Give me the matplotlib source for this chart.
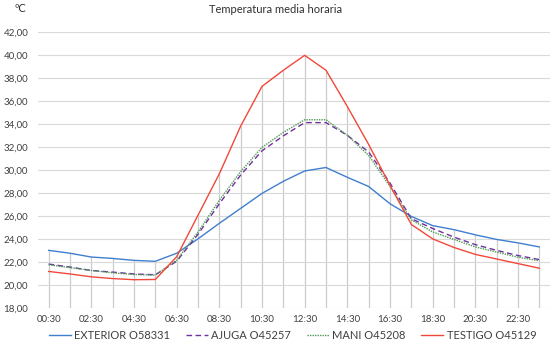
import numpy as np
import matplotlib.pyplot as plt

plt.rcParams["font.family"] = ["Lato", "DejaVu Sans"]

horas = [f"{h:02d}:30" for h in range(24)]

exterior = [23.05, 22.8, 22.47, 22.35, 22.18, 22.1, 22.8, 24.05, 25.4, 26.7, 28.0, 29.05,
            29.95, 30.25, 29.4, 28.6, 27.1, 26.0, 25.2, 24.85, 24.4, 24.0, 23.7, 23.35]
ajuga = [21.86, 21.6, 21.3, 21.16, 21.0, 20.93, 22.1, 24.45, 27.1, 29.6, 31.7, 33.0,
         34.15, 34.15, 33.05, 31.6, 28.9, 25.8, 24.95, 24.2, 23.55, 23.05, 22.6, 22.25]
mani = [21.8, 21.55, 21.3, 21.1, 20.95, 20.9, 22.2, 24.65, 27.4, 29.9, 32.0, 33.3,
        34.4, 34.4, 33.05, 31.3, 28.6, 25.7, 24.65, 24.0, 23.35, 22.9, 22.45, 22.15]
testigo = [21.22, 21.0, 20.75, 20.6, 20.5, 20.52, 22.5, 26.1, 29.7, 33.85, 37.3, 38.7,
           40.0, 38.7, 35.55, 32.25, 28.7, 25.3, 24.05, 23.3, 22.7, 22.3, 21.9, 21.5]

series = [
    ("EXTERIOR O58331", exterior, "#3F7FCF", "-"),
    ("AJUGA O45257", ajuga, "#7030A0", (0, (4, 2.5))),
    ("MANI O45208", mani, "#4E9A55", (0, (1, 0.8))),
    ("TESTIGO O45129", testigo, "#F2483A", "-"),
]

fig = plt.figure(figsize=(5.52, 3.42), dpi=100)
ax = fig.add_axes([38 / 552, 0.098, 512 / 552, 0.8076])

x = np.arange(len(horas))
top = np.max(np.vstack([exterior, ajuga, mani, testigo]), axis=0)
ax.vlines(x, 18, top, color="#cccccc", linewidth=0.9, zorder=1)

for name, vals, col, ls in series:
    ax.plot(x, vals, color=col, linestyle=ls, linewidth=1.0, label=name, zorder=3)

ax.set_xlim(-0.5, 23.5)
ax.set_ylim(18, 42)
ax.set_yticks(np.arange(18, 43, 2))
ax.set_yticklabels([f"{v:.2f}".replace(".", ",") for v in np.arange(18, 43, 2)])
ax.set_xticks(x[::2])
ax.set_xticklabels(horas[::2])
ax.tick_params(length=0, labelsize=7, colors="#404040", pad=7)
ax.tick_params(axis="x", pad=5)
ax.grid(axis="y", color="#d9d9d9", linewidth=0.8, zorder=0)
for s in ax.spines.values():
    s.set_visible(False)

fig.text(0.5, 0.972, "Temperatura media horaria", ha="center", va="center",
         fontsize=8, color="#303030")
fig.text(0.037, 0.975, "ºC", ha="center", va="center", fontsize=8, color="#303030")

fig.legend(loc="center", bbox_to_anchor=(0.53, 0.018), ncol=4, frameon=False,
           fontsize=8, handlelength=2.0, columnspacing=1.4, handletextpad=0.3,
           labelcolor="#404040")

fig.savefig("out.png", dpi=100)
